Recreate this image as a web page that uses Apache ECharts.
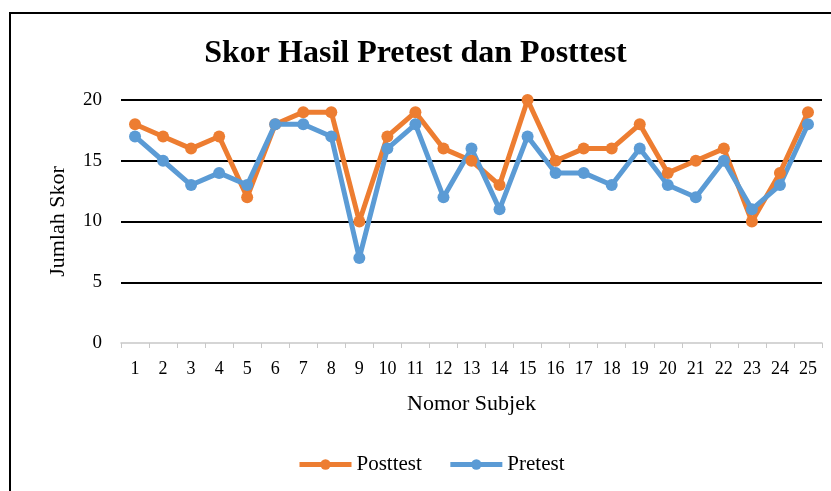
<!DOCTYPE html>
<html>
<head>
<meta charset="utf-8">
<script src="https://cdn.jsdelivr.net/npm/echarts@6/dist/echarts.min.js"></script>
<style>
  html, body { margin: 0; padding: 0; background: #fff; overflow: hidden; }
  #frame {
    position: absolute; left: 9px; top: 12px; width: 840px; height: 500px;
    border: 2px solid #000; box-sizing: border-box;
  }
  #chart { position: absolute; left: 0; top: 0; width: 831px; height: 491px; }
</style>
</head>
<body>
<div id="frame"></div>
<div id="chart"></div>
<script>
'use strict';
const subjects = ['1','2','3','4','5','6','7','8','9','10','11','12','13','14','15','16','17','18','19','20','21','22','23','24','25'];
const posttest = [18, 17, 16, 17, 12, 18, 19, 19, 10, 17, 19, 16, 15, 13, 20, 15, 16, 16, 18, 14, 15, 16, 10, 14, 19];
const pretest = [17, 15, 13, 14, 13, 18, 18, 17, 7, 16, 18, 12, 16, 11, 17, 14, 14, 13, 16, 13, 12, 15, 11, 13, 18];
const yTicks = [0, 5, 10, 15, 20];

const serif = '"Liberation Serif", "DejaVu Serif", serif';

const genSeries = (name, data, color) => ({
    name: name,
    type: 'line',
    data: data,
    symbol: 'circle',
    symbolSize: 12,
    color: color,
    lineStyle: { width: 5, color: color },
    itemStyle: { color: color }
});

const main = () => {
    const myChart = echarts.init(document.getElementById('chart'), null, { renderer: 'canvas' });
    myChart.setOption({
        animation: false,
        textStyle: { fontFamily: serif },
        title: {
            text: 'Skor Hasil Pretest dan Posttest',
            left: 'center',
            top: 33,
            textStyle: { fontFamily: serif, fontSize: 32, fontWeight: 'bold', color: '#000' }
        },
        legend: {
            bottom: 11,
            left: 292,
            itemWidth: 52,
            itemHeight: 13,
            itemGap: 26,
            textStyle: { fontFamily: serif, fontSize: 21, color: '#000' },
            lineStyle: { width: 5 },
            data: ['Posttest', 'Pretest']
        },
        grid: { left: 121, right: 9, top: 100, bottom: 148, containLabel: false },
        xAxis: {
            type: 'category',
            data: subjects,
            boundaryGap: true,
            name: 'Nomor Subjek',
            nameLocation: 'middle',
            nameGap: 50,
            nameTextStyle: { fontFamily: serif, fontSize: 22, color: '#000' },
            axisLine: { lineStyle: { color: '#c8c8c8', width: 1.5 } },
            axisTick: { show: true, alignWithLabel: false, length: 5, lineStyle: { color: '#c8c8c8' } },
            axisLabel: { fontFamily: serif, fontSize: 18, color: '#000', margin: 17, interval: 0 }
        },
        yAxis: {
            type: 'value',
            min: yTicks[0],
            max: yTicks[yTicks.length - 1],
            interval: 5,
            name: 'Jumlah Skor',
            nameLocation: 'middle',
            nameRotate: 90,
            nameGap: 52,
            nameTextStyle: { fontFamily: serif, fontSize: 22, color: '#000' },
            axisLine: { show: false },
            axisTick: { show: false },
            axisLabel: { fontFamily: serif, fontSize: 19, color: '#000', margin: 19 },
            splitLine: {
                show: true,
                lineStyle: { color: ['transparent', '#000', '#000', '#000', '#000'], width: 2 }
            }
        },
        series: [
            genSeries('Posttest', posttest, '#ED7D31'),
            genSeries('Pretest', pretest, '#5B9BD5')
        ]
    });
};

main();
</script>
</body>
</html>
